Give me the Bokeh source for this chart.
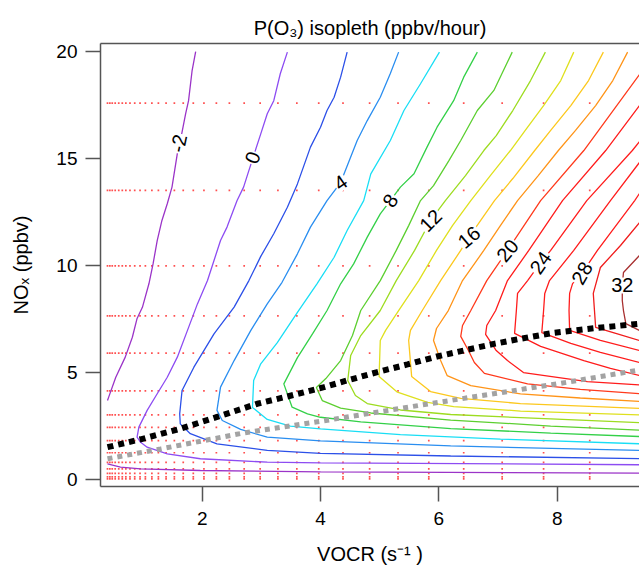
from bokeh.plotting import figure
from bokeh.models import Range1d, FixedTicker, LinearAxis, ColumnDataSource
from bokeh.embed import file_html
from bokeh.resources import INLINE
from bokeh.core.properties import value

FONT = "Liberation Sans"

# ---------------- data ----------------
x_ticks = [2, 4, 6, 8]
y_ticks = [0, 5, 10, 15, 20]

# model sample points (VOCR columns, NOx rows)
grid_vocr = [0.40, 0.44, 0.48, 0.53, 0.59, 0.65, 0.71, 0.78, 0.86, 0.95, 1.04, 1.15,
             1.26, 1.39, 1.53, 1.68, 1.85, 2.03, 2.24, 2.46, 2.71, 2.98, 3.28, 3.60,
             3.97, 4.38, 4.83, 5.31, 5.83, 6.42, 7.07, 7.77, 8.55]
grid_nox = [0.03, 0.12, 0.29, 0.50, 0.80, 1.25, 1.82, 2.44, 3.02, 4.14, 5.91, 7.65,
            9.99, 13.52, 17.60]

# contour lines (VOCR, NOx) per P(O3) level
c_m2a_x = [1.89, 1.83, 1.77, 1.72, 1.66, 1.58, 1.49, 1.41, 1.32, 1.24, 1.17, 1.10, 0.99, 0.90, 0.82, 0.70, 0.54, 0.42, 0.40]
c_m2a_y = [20.0, 19.12, 17.71, 17.09, 16.24, 15.23, 13.67, 12.89, 12.11, 11.17, 10.08, 9.15, 8.05, 7.53, 6.65, 5.72, 4.78, 3.85, 3.69]
c_m2b_x = [0.40, 0.62, 0.96, 1.97, 4.00, 9.39]
c_m2b_y = [0.73, 0.58, 0.50, 0.42, 0.36, 0.30]
c0_x = [3.44, 3.32, 3.21, 3.10, 2.99, 2.79, 2.70, 2.59, 2.42, 2.31, 2.20, 2.09, 1.92, 1.75, 1.58, 1.41, 1.24, 1.07, 0.93, 0.90, 0.96, 1.07, 1.41, 1.97, 3.10, 4.00, 9.39]
c0_y = [19.98, 18.97, 17.71, 17.10, 16.16, 14.45, 13.67, 13.04, 11.80, 11.17, 10.24, 9.30, 8.21, 6.96, 5.72, 4.78, 4.01, 3.23, 2.45, 1.98, 1.74, 1.51, 1.20, 0.97, 0.81, 0.78, 0.69]
c2_x = [4.45, 4.34, 4.23, 4.11, 4.00, 3.83, 3.61, 3.44, 3.21, 2.99, 2.79, 2.54, 2.20, 1.86, 1.66, 1.62, 1.63, 1.80, 2.25, 3.10, 4.00, 6.20, 9.39]
c2_y = [19.98, 18.81, 17.87, 17.25, 16.47, 15.54, 13.82, 12.73, 11.49, 10.43, 9.30, 8.06, 6.81, 5.25, 4.16, 3.07, 2.60, 2.14, 1.67, 1.36, 1.22, 1.10, 0.98]
c4_x = [5.32, 5.18, 5.01, 4.79, 4.62, 4.34, 4.11, 3.83, 3.61, 3.35, 3.10, 2.82, 2.54, 2.31, 2.25, 2.34, 2.65, 3.10, 4.00, 6.20, 9.39]
c4_y = [19.98, 18.98, 17.87, 16.78, 15.85, 13.88, 13.04, 11.80, 10.55, 9.22, 8.21, 6.96, 5.56, 4.32, 3.23, 2.76, 2.34, 1.98, 1.81, 1.57, 1.36]
c6_x = [6.01, 5.69, 5.41, 5.18, 4.85, 4.73, 4.45, 4.23, 3.94, 3.61, 3.27, 2.99, 2.87, 2.85, 3.10, 3.49, 4.00, 5.35, 7.04, 9.39]
c6_y = [19.98, 18.50, 17.25, 15.85, 14.29, 13.04, 11.64, 10.39, 9.15, 7.81, 6.40, 5.41, 4.63, 3.37, 2.81, 2.50, 2.37, 2.10, 1.89, 1.67]
c8_x = [6.65, 6.42, 6.25, 5.97, 5.80, 5.58, 5.35, 5.18, 5.01, 4.79, 4.56, 4.34, 4.11, 3.87, 3.61, 3.38, 3.52, 3.78, 4.00, 4.68, 6.20, 7.89, 9.39]
c8_y = [19.98, 18.81, 17.71, 16.47, 15.54, 14.29, 13.67, 13.04, 12.42, 11.33, 10.08, 9.15, 7.90, 6.83, 5.70, 4.47, 3.38, 3.07, 2.91, 2.69, 2.38, 2.17, 2.01]
c10_x = [7.24, 6.93, 6.65, 6.37, 6.17, 5.91, 5.69, 5.49, 5.28, 5.01, 4.68, 4.54, 4.34, 4.09, 3.93, 4.03, 4.34, 4.85, 6.20, 7.89, 9.39]
c10_y = [19.98, 18.19, 17.25, 15.85, 14.91, 13.74, 13.04, 11.87, 10.71, 9.30, 7.90, 6.73, 5.56, 4.72, 4.30, 3.69, 3.34, 3.11, 2.78, 2.50, 2.31]
c12_x = [7.80, 7.55, 7.25, 6.97, 6.76, 6.45, 6.11, 5.86, 5.59, 5.28, 5.01, 4.68, 4.51, 4.46, 4.59, 4.79, 5.35, 6.20, 7.89, 9.39]
c12_y = [19.98, 18.65, 17.25, 16.08, 15.38, 14.21, 13.04, 12.11, 10.71, 9.30, 7.90, 6.73, 5.80, 4.63, 3.93, 3.55, 3.25, 3.04, 2.83, 2.66]
c14_x = [8.28, 8.06, 7.77, 7.46, 7.21, 6.87, 6.54, 6.23, 5.96, 5.66, 5.32, 5.10, 5.01, 4.99, 5.30, 5.81, 6.25, 7.38, 9.39]
c14_y = [19.98, 18.65, 17.48, 16.32, 15.38, 14.21, 13.04, 11.87, 10.71, 9.30, 7.90, 6.97, 6.50, 4.82, 4.08, 3.61, 3.41, 3.20, 3.02]
c16_x = [8.78, 8.53, 8.23, 7.89, 7.62, 7.25, 6.94, 6.51, 6.37, 6.03, 5.72, 5.52, 5.49, 5.54, 5.86, 6.37, 7.38, 9.39]
c16_y = [19.98, 18.65, 17.48, 16.32, 15.38, 14.07, 13.04, 11.33, 10.71, 9.30, 7.90, 6.97, 6.50, 4.82, 4.11, 3.79, 3.55, 3.32]
c18_x = [9.19, 8.94, 8.65, 8.31, 8.02, 7.68, 7.33, 7.04, 6.76, 6.40, 6.16, 5.96, 5.91, 6.03, 6.14, 6.54, 7.38, 8.39, 9.39]
c18_y = [19.98, 18.65, 17.48, 16.32, 15.38, 14.21, 13.04, 11.87, 10.71, 9.30, 7.90, 7.06, 6.50, 5.56, 4.86, 4.39, 4.00, 3.81, 3.65]
c20_x = [9.39, 8.45, 7.72, 7.16, 6.81, 6.54, 6.40, 6.37, 6.50, 6.60, 6.77, 7.50, 8.39, 9.39]
c20_y = [18.93, 15.38, 13.04, 10.71, 9.30, 7.90, 7.20, 6.69, 6.03, 5.47, 4.96, 4.47, 4.21, 4.01]
c22_x = [9.39, 8.82, 8.09, 7.52, 7.16, 6.96, 6.81, 6.79, 6.97, 7.16, 7.43, 8.51, 9.39]
c22_y = [17.48, 15.38, 13.04, 10.71, 9.30, 7.90, 7.20, 6.78, 6.03, 5.56, 5.00, 4.58, 4.42]
c24_x = [9.39, 9.27, 8.50, 7.89, 7.72, 7.50, 7.33, 7.31, 7.28, 7.72, 8.45, 8.90, 9.39]
c24_y = [15.80, 15.38, 13.04, 10.71, 10.14, 9.30, 8.70, 7.90, 6.83, 6.22, 5.56, 5.19, 4.86]
c26_x = [9.39, 8.90, 8.28, 7.87, 7.79, 7.77, 7.74, 8.23, 8.73, 9.39]
c26_y = [14.82, 13.04, 10.71, 9.30, 8.70, 7.90, 6.87, 6.36, 5.94, 5.47]
c28_x = [9.39, 9.31, 8.68, 8.42, 8.26, 8.21, 8.20, 8.21, 8.73, 9.39]
c28_y = [13.37, 13.04, 10.71, 9.65, 9.16, 8.70, 7.90, 6.97, 6.50, 6.03]
c30_x = [9.39, 9.07, 8.73, 8.61, 8.63, 8.65, 8.99, 9.39]
c30_y = [12.01, 10.94, 9.91, 8.70, 7.90, 7.11, 6.83, 6.50]
c32_x = [9.39, 9.12, 9.10, 9.10, 9.12, 9.16, 9.39]
c32_y = [10.47, 9.68, 9.07, 8.37, 7.90, 7.29, 6.97]

# ridge line (black dotted) and second line (grey dotted)
ridge_x = [0.40, 0.96, 1.63, 2.28, 2.93, 3.44, 4.06, 4.45, 4.96, 5.47, 5.97, 6.42, 6.93, 7.38, 7.94, 8.68, 9.39]
ridge_y = [1.51, 1.88, 2.37, 2.95, 3.54, 3.88, 4.32, 4.63, 5.02, 5.38, 5.75, 6.03, 6.34, 6.58, 6.86, 7.09, 7.28]
gray_x = [0.40, 1.30, 2.65, 4.00, 5.86, 8.06, 9.39]
gray_y = [0.97, 1.43, 2.15, 2.72, 3.55, 4.50, 5.12]

# contour labels
label_text = ["-2", "0", "4", "8", "12", "16", "20", "24", "28", "32"]
label_x = [1.60, 2.85, 4.34, 5.18, 5.86, 6.51, 7.16, 7.72, 8.42, 9.10]
label_y = [15.71, 15.05, 13.88, 13.04, 12.11, 11.33, 10.71, 10.14, 9.65, 9.07]
label_angle = [78, 70, 35, 58, 45, 40, 50, 55, 60, 0]

# ---------------- styling ----------------
line_sets = [
    (c_m2a_x, c_m2a_y, "#9b34c8"),
    (c_m2b_x, c_m2b_y, "#9b34c8"),
    (c0_x, c0_y, "#8d4cf2"),
    (c2_x, c2_y, "#2c50e8"),
    (c4_x, c4_y, "#2a8ef0"),
    (c6_x, c6_y, "#19def5"),
    (c8_x, c8_y, "#33d048"),
    (c10_x, c10_y, "#5ccf30"),
    (c12_x, c12_y, "#9ddc20"),
    (c14_x, c14_y, "#dfe01e"),
    (c16_x, c16_y, "#fcc81e"),
    (c18_x, c18_y, "#ff9418"),
    (c20_x, c20_y, "#ff3a1c"),
    (c22_x, c22_y, "#ff1c1c"),
    (c24_x, c24_y, "#ff1c1c"),
    (c26_x, c26_y, "#ff1c1c"),
    (c28_x, c28_y, "#ff1c1c"),
    (c30_x, c30_y, "#f01c1c"),
    (c32_x, c32_y, "#a83030"),
]

p = figure(width=639, height=567,
           x_range=Range1d(0.2817, 9.391), y_range=Range1d(-0.327, 20.383),
           output_backend="svg", toolbar_location=None,
           min_border_left=100, min_border_right=0, min_border_top=43, min_border_bottom=81)

p.title.text = "P(O\u2083) isopleth (ppbv/hour)"
p.title.align = "center"
p.title.text_font = FONT
p.title.text_font_size = "20px"
p.title.text_font_style = "normal"
p.title.text_color = "black"
p.title.standoff = 9

p.xgrid.visible = False
p.ygrid.visible = False
p.outline_line_color = None
p.background_fill_color = "white"
p.border_fill_color = "white"

for ax in (p.xaxis[0], p.yaxis[0]):
    ax.axis_line_color = "#555555"
    ax.axis_line_width = 1.5
    ax.major_tick_line_color = "#555555"
    ax.major_tick_line_width = 1.5
    ax.major_tick_out = 15
    ax.major_tick_in = 0
    ax.minor_tick_line_color = None
    ax.major_label_text_font = FONT
    ax.major_label_text_font_size = "19px"
    ax.major_label_text_color = "black"
    ax.axis_label_text_font = FONT
    ax.axis_label_text_font_size = "20px"
    ax.axis_label_text_font_style = "normal"
    ax.axis_label_text_color = "black"

p.xaxis[0].ticker = FixedTicker(ticks=x_ticks)
p.yaxis[0].ticker = FixedTicker(ticks=y_ticks)
p.xaxis[0].axis_label = "VOCR (s\u207b\u00b9 )"
p.yaxis[0].axis_label = "NO\u2093 (ppbv)"
p.yaxis[0].major_label_standoff = 8
p.xaxis[0].major_label_standoff = 10
p.yaxis[0].axis_label_standoff = 21
p.xaxis[0].axis_label_standoff = 15

top_axis = LinearAxis(ticker=FixedTicker(ticks=[]), axis_line_color="#555555", axis_line_width=1.5,
                      major_tick_line_color=None, minor_tick_line_color=None,
                      major_label_text_font_size="0px", major_label_standoff=0,
                      major_tick_out=0, major_tick_in=0)
p.add_layout(top_axis, "above")

# sample points
dot_x = [gx for gy in grid_nox for gx in grid_vocr]
dot_y = [gy for gy in grid_nox for gx in grid_vocr]
p.scatter(dot_x, dot_y, marker="square", size=1.7, fill_color="#ff3030", line_color=None, alpha=0.85)

# contour lines
src = ColumnDataSource(dict(xs=[s[0] for s in line_sets], ys=[s[1] for s in line_sets],
                            color=[s[2] for s in line_sets]))
p.multi_line(xs="xs", ys="ys", line_color="color", line_width=1.3, source=src)

# ridge / dotted lines
p.line(gray_x, gray_y, line_color="#a3a3a3", line_width=5, line_dash="5 5")
p.line(ridge_x, ridge_y, line_color="black", line_width=6, line_dash="6 5")

# labels
lab = ColumnDataSource(dict(x=label_x, y=label_y, text=label_text, angle=label_angle))
p.text(x="x", y="y", text="text", angle="angle", angle_units="deg", source=lab,
       text_font=value(FONT), text_font_size="20px", text_color="black",
       text_align="center", text_baseline="middle",
       background_fill_color="white", padding=1)

open("out.html", "w").write(file_html(p, INLINE))
